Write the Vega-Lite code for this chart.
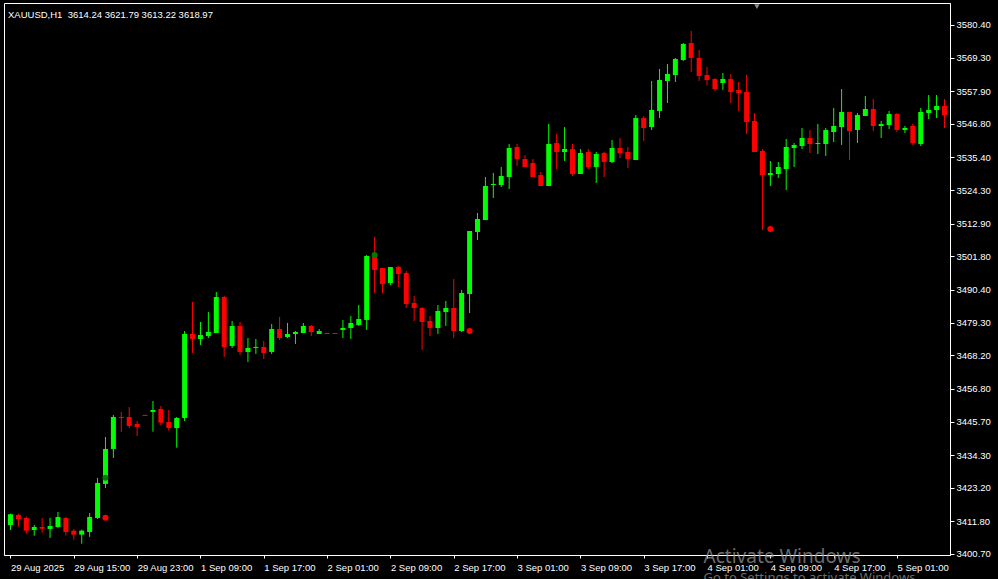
{
  "$schema": "https://vega.github.io/schema/vega-lite/v6.json",
  "autosize": "none",
  "width": 946,
  "height": 552,
  "padding": {"left": 4, "top": 3, "right": 48, "bottom": 24},
  "background": "#000000",
  "title": {
    "text": "XAUUSD,H1\u00a0 3614.24 3621.79 3613.22 3618.97",
    "anchor": "start",
    "frame": "group",
    "orient": "top",
    "offset": -16,
    "dx": 4,
    "color": "#ffffff",
    "font": "Liberation Sans",
    "fontSize": 9.5,
    "fontWeight": "normal"
  },
  "config": {
    "view": {"stroke": "#ffffff", "strokeWidth": 1},
    "axis": {
      "labelColor": "#ffffff",
      "tickColor": "#ffffff",
      "domainColor": "#ffffff",
      "labelFont": "Liberation Sans",
      "labelFontSize": 9.5,
      "grid": false,
      "title": null,
      "labelOverlap": false
    }
  },
  "datasets": {
    "candles": [
      {"i":0,"o":3410.56,"h":3414.40,"l":3408.86,"c":3414.20},
      {"i":1,"o":3413.96,"h":3414.40,"l":3409.99,"c":3412.60},
      {"i":2,"o":3412.94,"h":3413.38,"l":3407.61,"c":3408.63},
      {"i":3,"o":3408.86,"h":3410.56,"l":3406.93,"c":3409.88},
      {"i":4,"o":3409.88,"h":3412.94,"l":3407.95,"c":3409.30},
      {"i":5,"o":3409.20,"h":3412.94,"l":3406.15,"c":3410.22},
      {"i":6,"o":3409.88,"h":3414.98,"l":3409.64,"c":3413.28},
      {"i":7,"o":3412.94,"h":3413.28,"l":3406.93,"c":3408.19},
      {"i":8,"o":3408.63,"h":3409.20,"l":3405.57,"c":3407.27},
      {"i":9,"o":3407.27,"h":3408.97,"l":3404.21,"c":3408.63},
      {"i":10,"o":3408.19,"h":3414.64,"l":3406.49,"c":3413.28},
      {"i":11,"o":3412.94,"h":3426.53,"l":3412.60,"c":3424.83},
      {"i":12,"o":3424.49,"h":3440.45,"l":3423.13,"c":3436.38},
      {"i":13,"o":3436.38,"h":3447.93,"l":3433.32,"c":3447.25},
      {"i":14,"o":3447.25,"h":3448.95,"l":3442.15,"c":3446.91},
      {"i":15,"o":3447.25,"h":3450.64,"l":3443.51,"c":3444.19},
      {"i":16,"o":3444.87,"h":3445.89,"l":3440.79,"c":3443.85},
      {"i":17,"o":3447.95,"h":3447.95,"l":3447.61,"c":3447.61},
      {"i":18,"o":3448.95,"h":3452.68,"l":3442.25,"c":3449.63},
      {"i":19,"o":3449.97,"h":3450.99,"l":3444.30,"c":3445.32},
      {"i":20,"o":3445.55,"h":3449.63,"l":3442.59,"c":3443.51},
      {"i":21,"o":3443.51,"h":3447.25,"l":3436.82,"c":3446.91},
      {"i":22,"o":3446.91,"h":3476.46,"l":3445.89,"c":3475.44},
      {"i":23,"o":3475.44,"h":3486.31,"l":3468.99,"c":3473.74},
      {"i":24,"o":3473.74,"h":3479.52,"l":3471.71,"c":3475.10},
      {"i":25,"o":3474.76,"h":3482.91,"l":3474.08,"c":3476.12},
      {"i":26,"o":3475.78,"h":3489.71,"l":3475.78,"c":3488.01},
      {"i":27,"o":3488.01,"h":3488.35,"l":3467.63,"c":3471.03},
      {"i":28,"o":3471.37,"h":3479.86,"l":3470.69,"c":3478.16},
      {"i":29,"o":3478.16,"h":3479.52,"l":3468.31,"c":3469.33},
      {"i":30,"o":3469.33,"h":3474.08,"l":3465.93,"c":3470.69},
      {"i":31,"o":3470.69,"h":3473.74,"l":3468.65,"c":3471.03},
      {"i":32,"o":3471.03,"h":3473.06,"l":3466.95,"c":3468.99},
      {"i":33,"o":3469.33,"h":3478.84,"l":3468.65,"c":3477.14},
      {"i":34,"o":3477.14,"h":3481.21,"l":3473.40,"c":3474.08},
      {"i":35,"o":3474.42,"h":3479.18,"l":3474.08,"c":3475.44},
      {"i":36,"o":3475.44,"h":3476.46,"l":3472.04,"c":3476.12},
      {"i":37,"o":3475.78,"h":3479.18,"l":3475.78,"c":3478.16},
      {"i":38,"o":3478.16,"h":3478.50,"l":3474.76,"c":3476.12},
      {"i":39,"o":3475.44,"h":3477.14,"l":3475.44,"c":3476.46},
      {"i":40,"o":3475.78,"h":3475.78,"l":3475.44,"c":3475.44},
      {"i":41,"o":3475.78,"h":3475.78,"l":3475.44,"c":3475.44},
      {"i":42,"o":3476.80,"h":3480.20,"l":3474.08,"c":3477.48},
      {"i":43,"o":3477.48,"h":3481.55,"l":3473.74,"c":3479.18},
      {"i":44,"o":3478.50,"h":3485.29,"l":3478.16,"c":3480.53},
      {"i":45,"o":3480.20,"h":3502.27,"l":3476.80,"c":3501.93},
      {"i":46,"o":3501.93,"h":3508.39,"l":3489.37,"c":3497.18},
      {"i":47,"o":3497.86,"h":3497.86,"l":3489.37,"c":3492.42},
      {"i":48,"o":3492.76,"h":3498.20,"l":3492.08,"c":3498.20},
      {"i":49,"o":3498.20,"h":3498.54,"l":3491.40,"c":3495.82},
      {"i":50,"o":3496.16,"h":3496.84,"l":3484.27,"c":3485.63},
      {"i":51,"o":3485.97,"h":3488.35,"l":3479.86,"c":3484.27},
      {"i":52,"o":3484.27,"h":3484.61,"l":3470.01,"c":3479.52},
      {"i":53,"o":3479.86,"h":3481.55,"l":3474.76,"c":3477.48},
      {"i":54,"o":3477.48,"h":3485.29,"l":3475.44,"c":3483.25},
      {"i":55,"o":3482.91,"h":3486.65,"l":3478.16,"c":3484.27},
      {"i":56,"o":3484.27,"h":3494.12,"l":3474.08,"c":3476.46},
      {"i":57,"o":3476.46,"h":3490.39,"l":3476.12,"c":3489.37},
      {"i":58,"o":3489.03,"h":3510.43,"l":3482.57,"c":3510.43},
      {"i":59,"o":3510.09,"h":3516.54,"l":3507.37,"c":3514.50},
      {"i":60,"o":3514.16,"h":3528.77,"l":3514.16,"c":3525.71},
      {"i":61,"o":3526.05,"h":3530.13,"l":3521.64,"c":3526.39},
      {"i":62,"o":3526.05,"h":3532.17,"l":3525.37,"c":3529.11},
      {"i":63,"o":3528.77,"h":3539.98,"l":3524.69,"c":3538.62},
      {"i":64,"o":3538.96,"h":3539.98,"l":3532.51,"c":3534.88},
      {"i":65,"o":3534.88,"h":3536.24,"l":3532.17,"c":3532.17},
      {"i":66,"o":3533.52,"h":3534.88,"l":3528.77,"c":3528.77},
      {"i":67,"o":3529.45,"h":3530.47,"l":3525.71,"c":3525.71},
      {"i":68,"o":3525.71,"h":3546.77,"l":3525.71,"c":3539.98},
      {"i":69,"o":3540.32,"h":3543.37,"l":3531.49,"c":3537.26},
      {"i":70,"o":3537.26,"h":3545.75,"l":3534.20,"c":3538.28},
      {"i":71,"o":3538.28,"h":3539.98,"l":3529.11,"c":3529.79},
      {"i":72,"o":3529.79,"h":3538.28,"l":3529.79,"c":3536.92},
      {"i":73,"o":3537.26,"h":3538.28,"l":3531.49,"c":3532.17},
      {"i":74,"o":3532.17,"h":3537.26,"l":3526.73,"c":3536.58},
      {"i":75,"o":3536.92,"h":3537.26,"l":3528.77,"c":3533.86},
      {"i":76,"o":3533.86,"h":3541.33,"l":3533.52,"c":3538.62},
      {"i":77,"o":3538.62,"h":3542.01,"l":3535.22,"c":3536.92},
      {"i":78,"o":3537.26,"h":3538.96,"l":3531.83,"c":3534.88},
      {"i":79,"o":3534.54,"h":3549.83,"l":3534.54,"c":3548.81},
      {"i":80,"o":3548.81,"h":3549.49,"l":3541.00,"c":3545.41},
      {"i":81,"o":3545.75,"h":3561.38,"l":3544.73,"c":3551.53},
      {"i":82,"o":3551.19,"h":3565.45,"l":3548.81,"c":3561.72},
      {"i":83,"o":3561.38,"h":3567.15,"l":3553.90,"c":3563.75},
      {"i":84,"o":3563.42,"h":3569.19,"l":3561.04,"c":3568.85},
      {"i":85,"o":3568.51,"h":3574.28,"l":3568.17,"c":3573.94},
      {"i":86,"o":3574.28,"h":3578.36,"l":3564.43,"c":3569.19},
      {"i":87,"o":3569.19,"h":3571.91,"l":3561.38,"c":3563.08},
      {"i":88,"o":3563.42,"h":3566.13,"l":3560.02,"c":3561.72},
      {"i":89,"o":3562.06,"h":3562.40,"l":3557.98,"c":3558.66},
      {"i":90,"o":3560.70,"h":3564.09,"l":3558.32,"c":3562.06},
      {"i":91,"o":3562.06,"h":3563.75,"l":3553.90,"c":3557.64},
      {"i":92,"o":3558.32,"h":3561.04,"l":3551.19,"c":3557.30},
      {"i":93,"o":3557.64,"h":3563.42,"l":3543.37,"c":3547.45},
      {"i":94,"o":3547.79,"h":3550.51,"l":3537.26,"c":3537.26},
      {"i":95,"o":3537.60,"h":3538.28,"l":3510.77,"c":3529.45},
      {"i":96,"o":3529.45,"h":3534.20,"l":3525.71,"c":3530.13},
      {"i":97,"o":3529.79,"h":3533.86,"l":3528.43,"c":3532.17},
      {"i":98,"o":3531.49,"h":3541.67,"l":3524.35,"c":3538.96},
      {"i":99,"o":3538.62,"h":3540.32,"l":3532.17,"c":3539.64},
      {"i":100,"o":3539.30,"h":3545.41,"l":3538.28,"c":3542.01},
      {"i":101,"o":3542.01,"h":3544.73,"l":3536.92,"c":3539.98},
      {"i":102,"o":3539.98,"h":3546.77,"l":3536.58,"c":3540.32},
      {"i":103,"o":3539.98,"h":3545.41,"l":3535.90,"c":3544.73},
      {"i":104,"o":3544.05,"h":3552.21,"l":3540.66,"c":3546.09},
      {"i":105,"o":3545.75,"h":3558.66,"l":3539.64,"c":3550.85},
      {"i":106,"o":3550.85,"h":3550.85,"l":3534.54,"c":3544.39},
      {"i":107,"o":3544.73,"h":3550.51,"l":3540.32,"c":3549.83},
      {"i":108,"o":3549.49,"h":3556.28,"l":3549.49,"c":3551.87},
      {"i":109,"o":3551.87,"h":3555.26,"l":3544.39,"c":3546.09},
      {"i":110,"o":3546.09,"h":3547.79,"l":3542.01,"c":3546.77},
      {"i":111,"o":3546.43,"h":3551.19,"l":3545.07,"c":3550.17},
      {"i":112,"o":3550.17,"h":3550.51,"l":3544.05,"c":3544.73},
      {"i":113,"o":3544.73,"h":3546.09,"l":3543.71,"c":3545.41},
      {"i":114,"o":3546.09,"h":3546.77,"l":3539.64,"c":3540.32},
      {"i":115,"o":3539.98,"h":3552.21,"l":3539.30,"c":3550.85},
      {"i":116,"o":3550.51,"h":3556.62,"l":3548.47,"c":3551.53},
      {"i":117,"o":3551.53,"h":3556.62,"l":3548.81,"c":3552.89},
      {"i":118,"o":3552.89,"h":3555.26,"l":3545.41,"c":3549.83}
    ],
    "dots": [
      {"i":12,"p":3413.04,"kind":"sell"},
      {"i":58,"p":3476.46,"kind":"sell"},
      {"i":96,"p":3511.11,"kind":"sell"},
      {"i":12,"p":3426.63,"kind":"buy"},
      {"i":46,"p":3502.27,"kind":"buy"}
    ]
  },
  "layer": [
    {
      "data": {"name": "candles"},
      "mark": {"type": "rule", "strokeWidth": 1, "clip": true},
      "encoding": {
        "x": {
          "field": "i",
          "type": "quantitative",
          "scale": {"domain": [-0.1875, 118.0625], "nice": false, "zero": false},
          "axis": {
            "orient": "bottom",
            "values": [0, 8, 16, 24, 32, 40, 48, 56, 64, 72, 80, 88, 96, 104, 112],
            "tickCount": 40,
            "labelExpr": "['29 Aug 2025','29 Aug 15:00','29 Aug 23:00','1 Sep 09:00','1 Sep 17:00','2 Sep 01:00','2 Sep 09:00','2 Sep 17:00','3 Sep 01:00','3 Sep 09:00','3 Sep 17:00','4 Sep 01:00','4 Sep 09:00','4 Sep 17:00','5 Sep 01:00'][round(datum.value / 8)]",
            "labelAlign": "left",
            "labelBaseline": "top",
            "tickSize": 3,
            "labelPadding": 4,
            "labelFlush": false,
            "labelOverlap": false,
            "labelBound": false
          }
        },
        "y": {
          "field": "l",
          "type": "quantitative",
          "scale": {"domain": [3400.36, 3587.87], "nice": false, "zero": false},
          "axis": {
            "orient": "right",
            "values": [3400.70, 3411.80, 3423.20, 3434.30, 3445.70, 3456.80, 3468.20, 3479.30, 3490.40, 3501.80, 3512.90, 3524.30, 3535.40, 3546.80, 3557.90, 3569.30, 3580.40],
            "tickCount": 40,
            "format": ".2f",
            "tickSize": 4,
            "labelPadding": 2,
            "labelAlign": "left",
            "labelBaseline": "middle",
            "labelOverlap": false,
            "labelFlush": false,
            "labelBound": false
          }
        },
        "y2": {"field": "h"},
        "color": {
          "condition": {"test": "datum.c >= datum.o", "value": "#00ff00"},
          "value": "#ff0000"
        }
      }
    },
    {
      "data": {"name": "candles"},
      "mark": {"type": "bar", "width": 5, "clip": true},
      "encoding": {
        "x": {"field": "i", "type": "quantitative"},
        "y": {"field": "o", "type": "quantitative"},
        "y2": {"field": "c"},
        "color": {
          "condition": {"test": "datum.c >= datum.o", "value": "#00ff00"},
          "value": "#ff0000"
        }
      }
    },
    {
      "data": {"name": "dots"},
      "mark": {"type": "point", "shape": "circle", "filled": true, "size": 36, "opacity": 1, "clip": true},
      "encoding": {
        "x": {"field": "i", "type": "quantitative"},
        "y": {"field": "p", "type": "quantitative"},
        "color": {
          "condition": {"test": "datum.kind === 'sell'", "value": "#ff0000"},
          "value": "#007a00"
        }
      }
    },
    {
      "data": {"values": [{}]},
      "mark": {"type": "point", "shape": "triangle-down", "filled": true, "size": 30, "color": "#8c8c8c", "opacity": 1},
      "encoding": {
        "x": {"datum": 94.3, "type": "quantitative"},
        "y": {"datum": 3586.6, "type": "quantitative"}
      }
    },
    {
      "data": {"values": [{}]},
      "mark": {"type": "text", "text": "Activate Windows", "align": "left", "baseline": "alphabetic", "font": "Noto Sans", "fontSize": 19, "color": "#9a9a9a", "opacity": 0.7},
      "encoding": {
        "x": {"datum": 87.56, "type": "quantitative"},
        "y": {"datum": 3397.64, "type": "quantitative"}
      }
    },
    {
      "data": {"values": [{}]},
      "mark": {"type": "text", "text": "Go to Settings to activate Windows.", "align": "left", "baseline": "alphabetic", "font": "Noto Sans", "fontSize": 13, "color": "#9a9a9a", "opacity": 0.7},
      "encoding": {
        "x": {"datum": 87.56, "type": "quantitative"},
        "y": {"datum": 3391.19, "type": "quantitative"}
      }
    }
  ]
}
